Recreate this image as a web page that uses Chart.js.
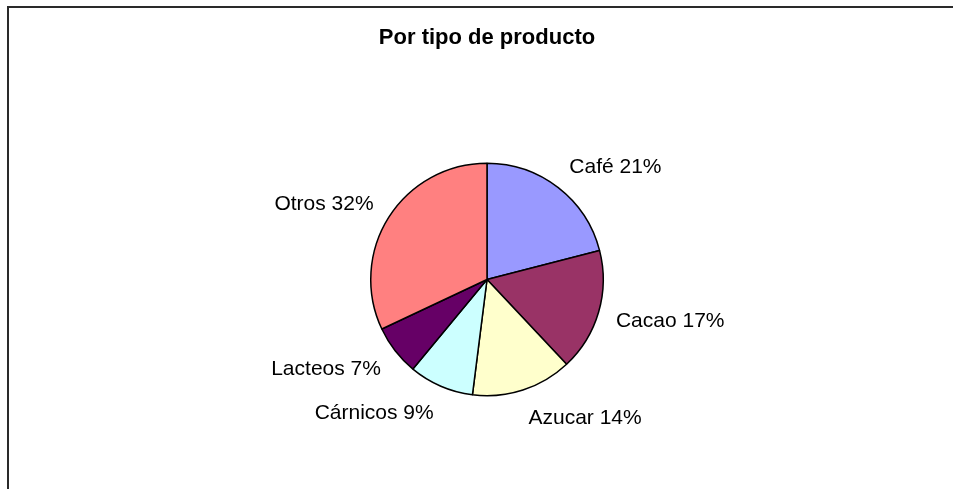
<!DOCTYPE html>
<html>
<head>
<meta charset="utf-8">
<script src="https://cdn.jsdelivr.net/npm/chart.js@4/dist/chart.umd.min.js"></script>
<style>
  html, body { margin: 0; padding: 0; background: #fff; overflow: hidden; }
  #wrap { position: relative; width: 953px; height: 489px; }
  #frame {
    position: absolute; left: 7px; top: 6px; width: 1000px; height: 600px;
    border-left: 2px solid #2a2a2a; border-top: 2px solid #2a2a2a;
    pointer-events: none;
  }
</style>
</head>
<body>
<div id="wrap">
  <canvas id="pieChart" width="953" height="489"></canvas>
  <div id="frame"></div>
</div>
<script>
// Chart data
const categories = ["Café", "Cacao", "Azucar", "Cárnicos", "Lacteos", "Otros"];
const shares = [21, 17, 14, 9, 7, 32];
const sliceColors = ["#9999FF", "#993366", "#FFFFCC", "#CCFFFF", "#660066", "#FF8080"];

const FONT = "'Liberation Sans', Arial, sans-serif";

// Outside labels, placed from each arc's geometry
const outsideLabels = {
  id: "outsideLabels",
  afterDatasetsDraw(chart) {
    const ctx = chart.ctx;
    const meta = chart.getDatasetMeta(0);
    ctx.save();
    ctx.font = "21px " + FONT;
    ctx.fillStyle = "#000";
    ctx.textAlign = "center";
    ctx.textBaseline = "middle";
    meta.data.forEach((arc, i) => {
      const { x, y, startAngle, endAngle, outerRadius } = arc.getProps(
        ["x", "y", "startAngle", "endAngle", "outerRadius"], true);
      const mid = (startAngle + endAngle) / 2;
      const cos = Math.cos(mid), sin = Math.sin(mid);
      const text = categories[i] + " " + shares[i] + "%";
      const hw = ctx.measureText(text).width / 2;
      const hh = 10;
      const r = outerRadius + 18;
      const cx = x + r * cos + Math.sign(cos) * hw;
      const cy = y + r * sin + sin * hh + 1.5;
      ctx.fillText(text, cx, cy);
    });
    ctx.restore();
  }
};

new Chart(document.getElementById("pieChart"), {
  type: "pie",
  data: {
    labels: categories,
    datasets: [{
      data: shares,
      backgroundColor: sliceColors,
      borderColor: "#000",
      borderWidth: 1.5
    }]
  },
  options: {
    responsive: false,
    animation: false,
    layout: { padding: { top: 0, bottom: 92, left: 370, right: 349 } },
    plugins: {
      legend: { display: false },
      tooltip: { enabled: false },
      title: {
        display: true,
        text: "Por tipo de producto",
        color: "#000",
        font: { family: FONT, size: 22, weight: "bold" },
        padding: { top: 25, bottom: 110.6 }
      }
    }
  },
  plugins: [outsideLabels]
});
</script>
</body>
</html>
